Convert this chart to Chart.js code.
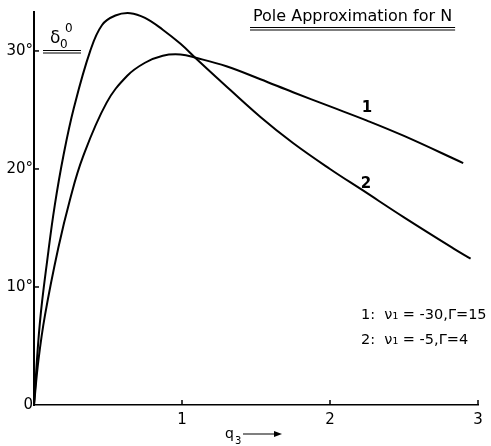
<!DOCTYPE html>
<html>
<head>
<meta charset="utf-8">
<script src="https://cdn.jsdelivr.net/npm/chart.js@4/dist/chart.umd.min.js"></script>
<style>
  html, body { margin: 0; padding: 0; background: #fff; }
  #wrap { width: 491px; height: 446px; }
</style>
</head>
<body>
<div id="wrap"><canvas id="pole"></canvas></div>
<script>
// curve 1: nu1 = -30, Gamma = 15
const q1 = [0, 0.03, 0.074, 0.164, 0.243, 0.33, 0.49, 0.63, 0.75, 0.87, 0.99, 1.10, 1.30, 1.53, 1.75, 2.0, 2.25, 2.5, 2.9];
const delta1 = [0, 3.8, 7.6, 13.3, 17.4, 21.0, 25.6, 27.9, 29.0, 29.6, 29.7, 29.4, 28.7, 27.6, 26.5, 25.3, 24.1, 22.8, 20.5];

// curve 2: nu1 = -5, Gamma = 4
const q2 = [0, 0.04, 0.097, 0.14, 0.2, 0.27, 0.38, 0.46, 0.55, 0.65, 0.75, 0.87, 0.99, 1.10, 1.23, 1.53, 1.75, 2.0, 2.22, 2.5, 2.83, 2.95];
const delta2 = [0, 7.0, 13.0, 16.9, 21.2, 25.2, 30.0, 32.2, 33.0, 33.2, 32.8, 31.8, 30.6, 29.3, 27.8, 24.4, 22.2, 20.0, 18.2, 15.9, 13.3, 12.4];

const xTicks = [1, 2, 3];
const yTicks = [0, 10, 20, 30];
const yTickLabels = ['0', '10°', '20°', '30°'];

const FONT = '"DejaVu Sans", sans-serif';

const toPoints = (xs, ys) => xs.map((x, i) => ({ x, y: ys[i] }));

// short inward tick marks plus the hand-lettered annotations
const annotations = {
  id: 'annotations',
  afterDraw(chart) {
    const { ctx, scales: { x, y } } = chart;
    ctx.save();
    ctx.strokeStyle = '#000';
    ctx.lineWidth = 1.5;
    const x0 = x.getPixelForValue(0);
    const y0 = y.getPixelForValue(0);
    yTicks.slice(1).forEach(v => {
      const py = y.getPixelForValue(v);
      ctx.beginPath(); ctx.moveTo(x0, py); ctx.lineTo(x0 + 5, py); ctx.stroke();
    });
    xTicks.forEach(v => {
      const px = x.getPixelForValue(v);
      ctx.beginPath(); ctx.moveTo(px, y0); ctx.lineTo(px, y0 - 5); ctx.stroke();
    });

    ctx.fillStyle = '#000';
    ctx.textBaseline = 'middle';

    // title with double underline
    ctx.font = `16px ${FONT}`;
    ctx.textAlign = 'left';
    const title = 'Pole Approximation for N';
    ctx.fillText(title, 253, 17);
    const tw = ctx.measureText(title).width;
    ctx.lineWidth = 1;
    ctx.beginPath(); ctx.moveTo(250, 27.5); ctx.lineTo(256 + tw, 27.5); ctx.stroke();
    ctx.beginPath(); ctx.moveTo(250, 30); ctx.lineTo(256 + tw, 30); ctx.stroke();

    // delta_0^0 label
    ctx.font = `17px ${FONT}`;
    ctx.fillText('δ', 50, 39);
    ctx.font = `12px ${FONT}`;
    ctx.fillText('0', 60, 45);
    ctx.fillText('0', 65, 29);
    ctx.beginPath(); ctx.moveTo(43, 50.5); ctx.lineTo(81, 50.5); ctx.stroke();
    ctx.beginPath(); ctx.moveTo(43, 53); ctx.lineTo(81, 53); ctx.stroke();

    // curve labels
    ctx.font = `bold 15px ${FONT}`;
    ctx.textAlign = 'center';
    ctx.fillText('1', 367, 108);
    ctx.fillText('2', 366, 184);

    // parameter key
    ctx.font = `14.5px ${FONT}`;
    ctx.textAlign = 'left';
    ctx.fillText('1:  ν₁ = -30,Γ=15', 361, 315);
    ctx.fillText('2:  ν₁ = -5,Γ=4', 361, 340);

    // axis name
    ctx.font = `14px ${FONT}`;
    ctx.fillText('q', 225, 434);
    ctx.font = `10px ${FONT}`;
    ctx.fillText('3', 235, 441);
    ctx.lineWidth = 1.2;
    ctx.beginPath(); ctx.moveTo(243, 434); ctx.lineTo(276, 434); ctx.stroke();
    ctx.beginPath(); ctx.moveTo(282, 434); ctx.lineTo(274, 431); ctx.lineTo(274, 437); ctx.closePath(); ctx.fill();
    ctx.restore();
  }
};

new Chart(document.getElementById('pole'), {
  type: 'scatter',
  data: {
    datasets: [
      { label: '1', data: toPoints(q1, delta1) },
      { label: '2', data: toPoints(q2, delta2) },
    ].map(ds => ({
      ...ds,
      showLine: true,
      borderColor: '#000',
      borderWidth: 2,
      pointRadius: 0,
      fill: false,
      tension: 0.4,
    }))
  },
  options: {
    responsive: true,
    maintainAspectRatio: false,
    animation: false,
    layout: { padding: { left: 0, right: 13, top: 12, bottom: 0 } },
    plugins: { legend: { display: false }, tooltip: { enabled: false } },
    scales: {
      x: {
        type: 'linear', min: 0, max: 3,
        afterFit: s => { s.height = 41; },
        afterBuildTicks: s => { s.ticks = xTicks.map(v => ({ value: v })); },
        grid: { display: false, drawTicks: false },
        border: { color: '#000', width: 1.5 },
        ticks: { color: '#000', padding: 6, font: { family: FONT, size: 15 } },
      },
      y: {
        type: 'linear', min: 0, max: 33.3,
        afterFit: s => { s.width = 34; },
        afterBuildTicks: s => { s.ticks = yTicks.map(v => ({ value: v })); },
        grid: { display: false, drawTicks: false },
        border: { color: '#000', width: 2 },
        ticks: {
          color: '#000', padding: 1, font: { family: FONT, size: 15 },
          callback: v => yTickLabels[yTicks.indexOf(v)],
        },
      },
    },
  },
  plugins: [annotations],
});
</script>
</body>
</html>
